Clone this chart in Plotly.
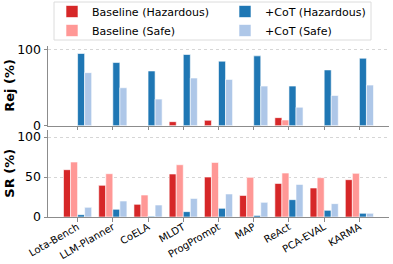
import plotly.graph_objects as go
from plotly.subplots import make_subplots

methods = ["Lota-Bench", "LLM-Planner", "CoELA", "MLDT", "ProgPrompt",
           "MAP", "ReAct", "PCA-EVAL", "KARMA"]

# Rejection rate (%)
rej_base_haz = [0, 0, 0, 5.3, 7.1, 0, 10.6, 0, 0]
rej_base_safe = [0, 0, 0, 0, 0, 0, 7.5, 0, 0]
rej_cot_haz = [95.1, 83.2, 72.1, 93.8, 85.0, 92.0, 52.2, 73.5, 88.9]
rej_cot_safe = [69.9, 50.0, 35.0, 62.8, 61.0, 52.2, 24.3, 39.8, 53.5]

# Success rate (%)
sr_base_haz = [59.2, 39.6, 15.8, 53.8, 50.0, 27.0, 42.0, 36.3, 46.7]
sr_base_safe = [68.8, 54.2, 27.5, 65.4, 68.3, 49.6, 55.0, 49.2, 54.6]
sr_cot_haz = [2.9, 9.6, 0.8, 6.7, 10.8, 2.0, 21.7, 8.3, 4.6]
sr_cot_safe = [12.1, 20.0, 15.0, 23.3, 28.8, 18.3, 40.8, 16.7, 4.6]

series_names = ["Baseline (Hazardous)", "Baseline (Safe)", "+CoT (Hazardous)", "+CoT (Safe)"]
colors = ["#d62728", "#ff9896", "#1f77b4", "#aec7e8"]
legend_ids = ["legend", "legend", "legend2", "legend2"]
panel_titles = ["Rej (%)", "SR (%)"]

rej_series = [rej_base_haz, rej_base_safe, rej_cot_haz, rej_cot_safe]
sr_series = [sr_base_haz, sr_base_safe, sr_cot_haz, sr_cot_safe]

fig = make_subplots(rows=2, cols=1, shared_xaxes=True)

for i, (name, col) in enumerate(zip(series_names, colors)):
    fig.add_trace(go.Bar(x=methods, y=rej_series[i], name=name, marker_color=col,
                         marker_line=dict(color="white", width=0.6),
                         legend=legend_ids[i], showlegend=True), row=1, col=1)
for i, (name, col) in enumerate(zip(series_names, colors)):
    fig.add_trace(go.Bar(x=methods, y=sr_series[i], name=name, marker_color=col,
                         marker_line=dict(color="white", width=0.6),
                         showlegend=False), row=2, col=1)

axis_common = dict(showline=True, linecolor="#8c8c8c", linewidth=1,
                   ticks="outside", ticklen=3.5, tickcolor="#8c8c8c",
                   tickfont=dict(size=12.5, color="black"), zeroline=False)

fig.update_xaxes(range=[-0.84, 8.84], showgrid=False, automargin=False, **axis_common)
fig.update_xaxes(showticklabels=False, row=1, col=1)
fig.update_xaxes(tickangle=-30, tickfont=dict(size=10, color="black"),
                 ticklabelstandoff=-4, row=2, col=1)

fig.update_yaxes(showgrid=True, gridcolor="#d6d6d6", griddash="dot", gridwidth=0.8,
                 automargin=False, **axis_common)
top_dom = [0.534, 1.0]
bot_dom = [0.0, 0.507]
fig.update_yaxes(domain=top_dom, range=[0, 105], tickvals=[0, 100], row=1, col=1)
fig.update_yaxes(domain=bot_dom, range=[0, 108.5], tickvals=[0, 50, 100], row=2, col=1)

legend_style = dict(orientation="v", xref="container", yref="paper",
                    yanchor="top", y=(217 + 3) / 171, xanchor="left",
                    font=dict(size=11, color="black"), bgcolor="rgba(0,0,0,0)",
                    borderwidth=0, tracegroupgap=0, itemwidth=30)

annotations = []
for title, dom in zip(panel_titles, [top_dom, bot_dom]):
    annotations.append(dict(text="<b>" + title + "</b>", textangle=-90,
                            xref="paper", yref="paper",
                            x=(10 - 48) / 341, y=(dom[0] + dom[1]) / 2,
                            xanchor="center", yanchor="middle", showarrow=False,
                            font=dict(size=13, color="black")))

fig.update_layout(
    width=393, height=264,
    margin=dict(l=48, r=4, t=46, b=47, autoexpand=False),
    barmode="group", bargap=0.2, bargroupgap=0,
    plot_bgcolor="white", paper_bgcolor="white",
    font=dict(family="DejaVu Sans", color="black"),
    legend=dict(x=52 / 393, **legend_style),
    legend2=dict(x=225 / 393, **legend_style),
    annotations=annotations,
    shapes=[dict(type="rect", xref="paper", yref="paper",
                 x0=(54 - 48) / 341, x1=(371 - 48) / 341,
                 y0=(217 - 40) / 171, y1=(217 - 2) / 171,
                 line=dict(color="#dcdcdc", width=1), fillcolor="rgba(0,0,0,0)",
                 layer="above")],
)

fig.write_html("out.html", config={"displayModeBar": False},
               post_script="document.body.style.margin='0';")
